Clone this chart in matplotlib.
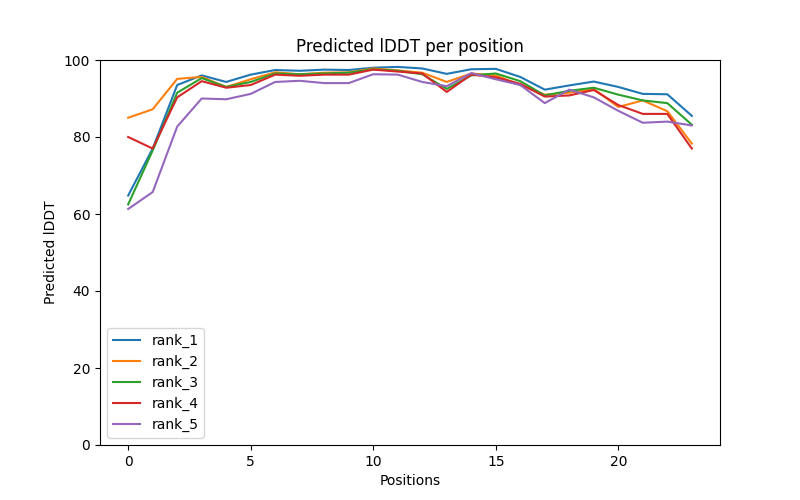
import matplotlib
matplotlib.use("Agg")
import matplotlib.pyplot as plt

positions = list(range(24))

rank_1 = [64.8, 77.0, 93.5, 96.0, 94.3, 96.2, 97.4, 97.2, 97.5, 97.4, 98.0, 98.2, 97.8, 96.4, 97.6, 97.7, 95.6, 92.3, 93.4, 94.4, 93.0, 91.2, 91.1, 85.5]
rank_2 = [85.0, 87.2, 95.1, 95.6, 93.0, 95.0, 96.8, 96.3, 96.7, 96.8, 97.8, 97.3, 96.7, 94.3, 96.5, 96.0, 93.5, 91.0, 91.5, 92.5, 87.8, 89.5, 86.7, 78.3]
rank_3 = [62.5, 76.5, 91.5, 95.3, 93.0, 94.3, 96.5, 96.3, 96.5, 96.7, 97.6, 97.2, 96.3, 92.5, 96.0, 96.5, 94.5, 90.8, 92.0, 92.8, 91.0, 89.5, 88.8, 83.2]
rank_4 = [80.0, 77.0, 90.3, 94.5, 92.8, 93.5, 96.2, 95.9, 96.2, 96.2, 97.5, 97.0, 96.5, 91.7, 96.2, 95.5, 93.8, 90.5, 90.8, 92.2, 88.3, 86.0, 86.0, 77.0]
rank_5 = [61.3, 65.7, 82.7, 90.0, 89.8, 91.2, 94.3, 94.6, 94.0, 94.0, 96.3, 96.2, 94.3, 93.2, 96.6, 95.0, 93.5, 88.8, 92.3, 90.3, 86.8, 83.7, 84.0, 83.0]

series = {
    'rank_1': rank_1,
    'rank_2': rank_2,
    'rank_3': rank_3,
    'rank_4': rank_4,
    'rank_5': rank_5,
}

plt.figure(figsize=(8, 5), dpi=100)
for name, vals in series.items():
    plt.plot(positions, vals, label=name)
plt.title('Predicted lDDT per position')
plt.xlabel('Positions')
plt.ylabel('Predicted lDDT')
plt.ylim(0, 100)
plt.legend()
plt.savefig('out.png', dpi=100)
